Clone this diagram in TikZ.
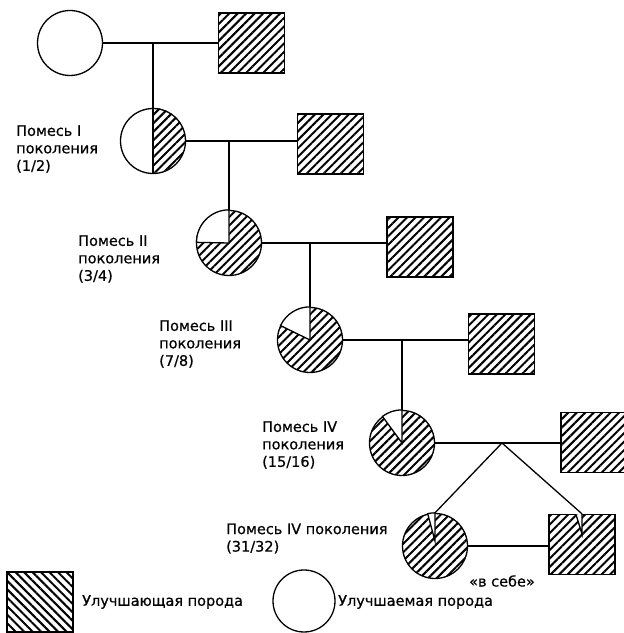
\documentclass[tikz,border=0pt]{standalone}
\usepackage{fontspec}
\setmainfont{DejaVu Sans}[FakeBold=0.6]
\usetikzlibrary{patterns.meta}
\tikzset{
  ln/.style={line width=1.3pt},
  hatch/.style={pattern={Lines[angle=45,distance=6pt,line width=2pt]}},
  hatchr/.style={pattern={Lines[angle=-45,distance=6pt,line width=2pt]}},
  circ/.style={circle, draw, line width=1.3pt, minimum size=65pt, inner sep=0pt},
  sq/.style={rectangle, draw, line width=1.3pt, minimum width=66pt, minimum height=60pt, inner sep=0pt, hatch},
  lbl/.style={align=left, anchor=west, font=\fontsize{14.5}{17.5}\selectfont, inner sep=0pt},
  wedge/.style={fill=white, line width=1.3pt},
}
\begin{document}
\begin{tikzpicture}[x=1pt,y=1pt]
\useasboundingbox (0,0) rectangle (624,633);
% generation 0
\node[circ] (c0) at (70,590) {};
\node[sq] (s0) at (251.5,590) {};
% generation 1
\node[circ] (c1) at (153,492) {};
\path[hatch] (c1.center) -- (c1.north) arc[start angle=90,end angle=-90,radius=32.5pt] -- cycle;
\node[sq] (s1) at (330.5,489) {};
% generation 2
\node[circ, hatch] (c2) at (229,390) {};
\filldraw[wedge] (c2.center) -- (c2.north) arc[start angle=90,end angle=180,radius=32.5pt] -- cycle;
\node[sq] (s2) at (420,386) {};
% generation 3
\node[circ, hatch] (c3) at (310,293) {};
\filldraw[wedge] (c3.center) -- (c3.north) arc[start angle=90,end angle=155,radius=32.5pt] -- cycle;
\node[sq] (s3) at (501.5,289) {};
% generation 4
\node[circ, hatch] (c4) at (402,190) {};
\filldraw[wedge] (c4.center) -- (c4.north) arc[start angle=90,end angle=127,radius=32.5pt] -- cycle;
\node[sq] (s4) at (594,190.5) {};
% generation 5
\node[circ, hatch] (c5) at (435,87) {};
\filldraw[wedge] ([yshift=5pt]c5.center) -- (c5.north) arc[start angle=90,end angle=103,radius=32.5pt] -- cycle;
\node[sq] (s5) at (582,88.5) {};
\coordinate (s5v) at (582,99);
\coordinate (s5l) at (576,118.5);
\fill[white] (s5l) -- (s5v) -- (s5.north) -- cycle;
\draw[ln] (s5l) -- (s5v) -- (s5.north);
% connectors
\draw[ln] (c0.east) -- (c0.east -| s0.west);
\draw[ln] (c1.north) -- (c1.north |- c0.east);
\draw[ln] (c1.north) -- (c1.south);
\draw[ln] (c1.east) -- (c1.east -| s1.west);
\draw[ln] (c2.north) -- (c2.north |- c1.east);
\draw[ln] (c2.east) -- (c2.east -| s2.west);
\draw[ln] (c3.north) -- (c3.north |- c2.east);
\draw[ln] (c3.east) -- (c3.east -| s3.west);
\draw[ln] (c4.north) -- (c4.north |- c3.east);
\draw[ln] (c4.east) -- (c4.east -| s4.west);
\coordinate (ap) at (502,190);
\draw[ln] (ap) -- (c5.north);
\draw[ln] (ap) -- (s5.north);
\draw[ln] (c5.east) -- (c5.east -| s5.west);
% labels
\node[lbl] (l1) at (16,484) {Помесь I\\поколения\\(1/2)};
\node[lbl] (l2) at (78,374) {Помесь II\\поколения\\(3/4)};
\node[lbl] (l3) at (159,289) {Помесь III\\поколения\\(7/8)};
\node[lbl] (l4) at (262,188) {Помесь IV\\поколения\\(15/16)};
\node[lbl] (l5) at (226,94.5) {Помесь IV поколения\\(31/32)};
\node[font=\fontsize{14.5}{17.5}\selectfont, inner sep=0pt] (vs) at (502,52) {«в себе»};
% legend
\node[sq, hatchr] (lg1) at (40,31) {};
\node[lbl] (lt1) at (82,31) {Улучшающая порода};
\node[circ, minimum size=62pt] (lg2) at (304,32) {};
\node[lbl] (lt2) at (338,31) {Улучшаемая порода};
\end{tikzpicture}
\end{document}
